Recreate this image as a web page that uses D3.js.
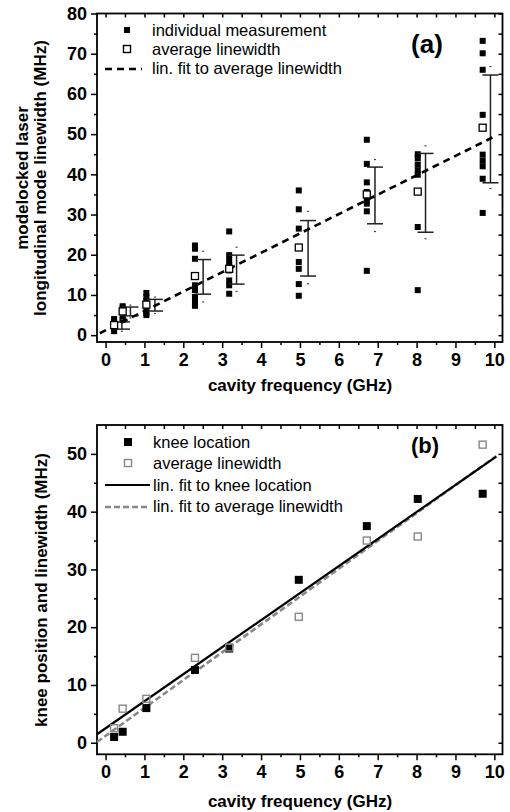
<!DOCTYPE html>
<html>
<head>
<meta charset="utf-8">
<script src="https://cdn.jsdelivr.net/npm/d3@7"></script>
<style>
body { margin: 0; background: #fff; }
svg text { font-family: Arial, "Liberation Sans", sans-serif; fill: #000; }
</style>
</head>
<body>
<div id="canvas"></div>
<script>

// cavity frequencies (GHz) of the measured lasers
var freq = [0.22, 0.44, 1.05, 2.30, 3.18, 4.97, 6.72, 8.03, 9.70]

// individual linewidth measurements (MHz), one list per laser
var individual = [
	[1.0, 1.8, 2.5, 3.3, 4.0],
	[3.8, 4.2, 5.8, 6.3, 6.8, 7.2],
	[5.0, 5.5, 6.5, 7.5, 8.5, 9.5, 10.5],
	[7.3, 8.3, 9.5, 11.2, 12.4, 19.0, 21.5, 22.3],
	[10.3, 12.4, 13.6, 16.1, 17.4, 18.6, 19.9, 25.8],
	[9.8, 12.7, 16.5, 18.2, 26.5, 31.3, 36.0],
	[16.0, 30.8, 32.7, 33.7, 35.6, 38.0, 42.6, 48.6],
	[11.2, 26.9, 39.9, 41.0, 42.4, 44.0, 45.0],
	[30.4, 38.9, 42.0, 43.4, 44.9, 54.8, 66.0, 70.1, 73.2]
]
var avgLinewidth = [2.5, 5.9, 7.6, 14.7, 16.5, 21.8, 35.0, 35.7, 51.6]

// error bars (drawn a little to the right of each group)
var barFreq = [0.42, 0.64, 1.27, 2.51, 3.37, 5.21, 6.93, 8.23, 9.90]
var barHigh = [3.3, 7.0, 8.9, 18.8, 19.9, 28.5, 41.8, 45.2, 64.7]
var barLow  = [1.5, 4.8, 6.0, 10.2, 12.7, 14.7, 27.7, 25.6, 37.9]
var markHigh = [3.9, 7.5, 9.5, 20.9, 21.9, 30.8, 43.7, 47.1, 66.8]
var markLow  = [1.0, 4.3, 5.4, 8.3, 10.9, 12.8, 25.8, 24.0, 36.5]

// knee location (MHz)
var kneeLocation = [1.0, 1.9, 6.0, 12.6, 16.3, 28.2, 37.5, 42.2, 43.1]

// linear fits: [intercept, slope] and the x range they are drawn over
var fitAvg = [1.2, 4.82]
var fitKnee = [2.5, 4.68]
var fitRangeA = [-0.15, 9.95]
var fitRangeB = [-0.22, 10.05]

var xTicks = [0, 1, 2, 3, 4, 5, 6, 7, 8, 9, 10]
var yTicksA = [0, 10, 20, 30, 40, 50, 60, 70, 80]
var yTicksB = [0, 10, 20, 30, 40, 50]

var svg = d3.select('#canvas').append('svg')
	.attr('width', 510)
	.attr('height', 812)

var xA = d3.scaleLinear().domain([-0.22, 10.21]).range([97, 502.5])
var yA = d3.scaleLinear().domain([-1.7, 80]).range([342, 13.5])
var xB = d3.scaleLinear().domain([-0.22, 10.21]).range([97, 502.5])
var yB = d3.scaleLinear().domain([-2, 55]).range([754.3, 425])

function styleAxis(g) {
	g.select('.domain').remove()
	g.selectAll('.tick line').attr('stroke', '#000').attr('stroke-width', 1.5)
	g.selectAll('.tick text')
		.style('font-size', '18px')
		.style('font-weight', 'bold')
		.style('font-family', 'Arial, "Liberation Sans", sans-serif')
}

function drawFrame(x, y, yTicks, yMinorStep) {
	var g = svg.append('g')
	var x0 = x.range()[0], x1 = x.range()[1]
	var y0 = y.range()[0], y1 = y.range()[1]
	var xMinor = d3.range(0.5, 10, 1)
	var yMinor = d3.range(yMinorStep, yTicks[yTicks.length - 1] + yMinorStep, 2 * yMinorStep)
		.filter(function (d) { return y(d) >= y1 })

	// outward ticks with labels
	g.append('g').attr('transform', 'translate(0,' + y0 + ')')
		.call(d3.axisBottom(x).tickValues(xTicks).tickSize(6).tickPadding(5).tickFormat(d3.format('d')))
		.call(styleAxis)
	g.append('g').attr('transform', 'translate(0,' + y0 + ')')
		.call(d3.axisBottom(x).tickValues(xMinor).tickSize(3).tickFormat(''))
		.call(styleAxis)
	g.append('g').attr('transform', 'translate(' + x0 + ',0)')
		.call(d3.axisLeft(y).tickValues(yTicks).tickSize(6).tickPadding(4).tickFormat(d3.format('d')))
		.call(styleAxis)
	g.append('g').attr('transform', 'translate(' + x0 + ',0)')
		.call(d3.axisLeft(y).tickValues(yMinor).tickSize(3).tickFormat(''))
		.call(styleAxis)

	// mirrored inward ticks on top and right
	g.append('g').attr('transform', 'translate(0,' + y1 + ')')
		.call(d3.axisTop(x).tickValues(xTicks.concat(xMinor)).tickSize(-4).tickFormat(''))
		.call(styleAxis)
	g.append('g').attr('transform', 'translate(' + x1 + ',0)')
		.call(d3.axisRight(y).tickValues(yTicks.concat(yMinor)).tickSize(-4).tickFormat(''))
		.call(styleAxis)

	g.append('rect')
		.attr('x', x0).attr('y', y1)
		.attr('width', x1 - x0).attr('height', y0 - y1)
		.attr('fill', 'none').attr('stroke', '#000').attr('stroke-width', 1.8)
}

function square(g, cx, cy, s, fill, stroke) {
	g.append('rect')
		.attr('x', cx - s / 2).attr('y', cy - s / 2)
		.attr('width', s).attr('height', s)
		.attr('fill', fill)
		.attr('stroke', stroke)
		.attr('stroke-width', stroke == 'none' ? 0 : 1.4)
}

function boldText(x, y, str, size, anchor) {
	return svg.append('text')
		.attr('x', x).attr('y', y)
		.attr('text-anchor', anchor || 'middle')
		.style('font-size', size + 'px')
		.style('font-weight', 'bold')
		.text(str)
}

function plainText(x, y, str) {
	return svg.append('text')
		.attr('x', x).attr('y', y)
		.style('font-size', '16.5px')
		.text(str)
}

// ---------- panel (a) ----------
drawFrame(xA, yA, yTicksA, 5)

var gA = svg.append('g')

var points = []
individual.forEach(function (list, i) {
	list.forEach(function (v) { points.push([freq[i], v]) })
})

gA.selectAll('.indiv')
	.data(points)
	.enter().append('rect')
		.attr('class', 'indiv')
		.attr('x', function (d) { return xA(d[0]) - 3 })
		.attr('y', function (d) { return yA(d[1]) - 3 })
		.attr('width', 6)
		.attr('height', 6)
		.attr('fill', '#000')

var bars = gA.selectAll('.bar')
	.data(barFreq)
	.enter().append('g')
		.attr('class', 'bar')
bars.append('line')
	.attr('x1', function (d) { return xA(d) }).attr('x2', function (d) { return xA(d) })
	.attr('y1', function (d, i) { return yA(barHigh[i]) })
	.attr('y2', function (d, i) { return yA(barLow[i]) })
	.attr('stroke', '#222').attr('stroke-width', 1.5)
bars.append('line')
	.attr('x1', function (d) { return xA(d) - 8 }).attr('x2', function (d) { return xA(d) + 8 })
	.attr('y1', function (d, i) { return yA(barHigh[i]) })
	.attr('y2', function (d, i) { return yA(barHigh[i]) })
	.attr('stroke', '#222').attr('stroke-width', 1.5)
bars.append('line')
	.attr('x1', function (d) { return xA(d) - 8 }).attr('x2', function (d) { return xA(d) + 8 })
	.attr('y1', function (d, i) { return yA(barLow[i]) })
	.attr('y2', function (d, i) { return yA(barLow[i]) })
	.attr('stroke', '#222').attr('stroke-width', 1.5)
bars.append('rect')
	.attr('x', function (d) { return xA(d) - 1 })
	.attr('y', function (d, i) { return yA(markHigh[i]) - 0.5 })
	.attr('width', 2).attr('height', 1.2).attr('fill', '#444')
bars.append('rect')
	.attr('x', function (d) { return xA(d) - 1 })
	.attr('y', function (d, i) { return yA(markLow[i]) - 0.5 })
	.attr('width', 2).attr('height', 1.2).attr('fill', '#444')

var lineA = d3.line()
	.x(function (d) { return xA(d) })
	.y(function (d) { return yA(fitAvg[0] + fitAvg[1] * d) })
gA.append('path')
	.attr('d', lineA(fitRangeA))
	.attr('fill', 'none')
	.attr('stroke', '#000')
	.attr('stroke-width', 2.6)
	.attr('stroke-dasharray', '7,5')

gA.selectAll('.avg')
	.data(avgLinewidth)
	.enter().append('rect')
		.attr('class', 'avg')
		.attr('x', function (d, i) { return xA(freq[i]) - 3.5 })
		.attr('y', function (d) { return yA(d) - 3.5 })
		.attr('width', 7)
		.attr('height', 7)
		.attr('fill', '#fff')
		.attr('stroke', '#000')
		.attr('stroke-width', 1.3)

// legend (a)
square(svg, 127, 30, 6, '#000', 'none')
square(svg, 127, 49, 7, '#fff', '#000')
svg.append('line')
	.attr('x1', 105).attr('x2', 142).attr('y1', 69).attr('y2', 69)
	.attr('stroke', '#000').attr('stroke-width', 2.6).attr('stroke-dasharray', '7,5')
plainText(152, 36, 'individual measurement')
plainText(152, 55, 'average linewidth')
plainText(152, 74, 'lin. fit to average linewidth')
boldText(427, 53, '(a)', 26)

boldText(300, 391, 'cavity frequency (GHz)', 17)
boldText(-178, 28, 'modelocked laser', 17).attr('transform', 'rotate(-90)')
boldText(-178, 46, 'longitudinal mode linewidth (MHz)', 17).attr('transform', 'rotate(-90)')

// ---------- panel (b) ----------
drawFrame(xB, yB, yTicksB, 5)

var gB = svg.append('g')

var lineKnee = d3.line()
	.x(function (d) { return xB(d) })
	.y(function (d) { return yB(fitKnee[0] + fitKnee[1] * d) })
var lineAvg = d3.line()
	.x(function (d) { return xB(d) })
	.y(function (d) { return yB(fitAvg[0] + fitAvg[1] * d) })

gB.append('path')
	.attr('d', lineAvg(fitRangeB))
	.attr('fill', 'none')
	.attr('stroke', '#888')
	.attr('stroke-width', 2.6)
	.attr('stroke-dasharray', '6,3')
gB.append('path')
	.attr('d', lineKnee(fitRangeB))
	.attr('fill', 'none')
	.attr('stroke', '#000')
	.attr('stroke-width', 2.2)

gB.selectAll('.knee')
	.data(kneeLocation)
	.enter().append('rect')
		.attr('class', 'knee')
		.attr('x', function (d, i) { return xB(freq[i]) - 4 })
		.attr('y', function (d) { return yB(d) - 4 })
		.attr('width', 8)
		.attr('height', 8)
		.attr('fill', '#000')

gB.selectAll('.avgB')
	.data(avgLinewidth)
	.enter().append('rect')
		.attr('class', 'avgB')
		.attr('x', function (d, i) { return xB(freq[i]) - 3.5 })
		.attr('y', function (d) { return yB(d) - 3.5 })
		.attr('width', 7)
		.attr('height', 7)
		.attr('fill', 'none')
		.attr('stroke', '#888')
		.attr('stroke-width', 1.4)

// legend (b)
square(svg, 128, 442, 8, '#000', 'none')
square(svg, 128, 463, 7, '#fff', '#888')
svg.append('line')
	.attr('x1', 105).attr('x2', 150).attr('y1', 485).attr('y2', 485)
	.attr('stroke', '#000').attr('stroke-width', 2.2)
svg.append('line')
	.attr('x1', 105).attr('x2', 150).attr('y1', 507).attr('y2', 507)
	.attr('stroke', '#888').attr('stroke-width', 2.6).attr('stroke-dasharray', '6,3')
plainText(153, 448, 'knee location')
plainText(153, 469, 'average linewidth')
plainText(153, 491, 'lin. fit to knee location')
plainText(153, 512, 'lin. fit to average linewidth')
boldText(425, 453, '(b)', 22)

boldText(300, 807, 'cavity frequency (GHz)', 17)
boldText(-590, 47, 'knee position and linewidth (MHz)', 17).attr('transform', 'rotate(-90)')

</script>
</body>
</html>
